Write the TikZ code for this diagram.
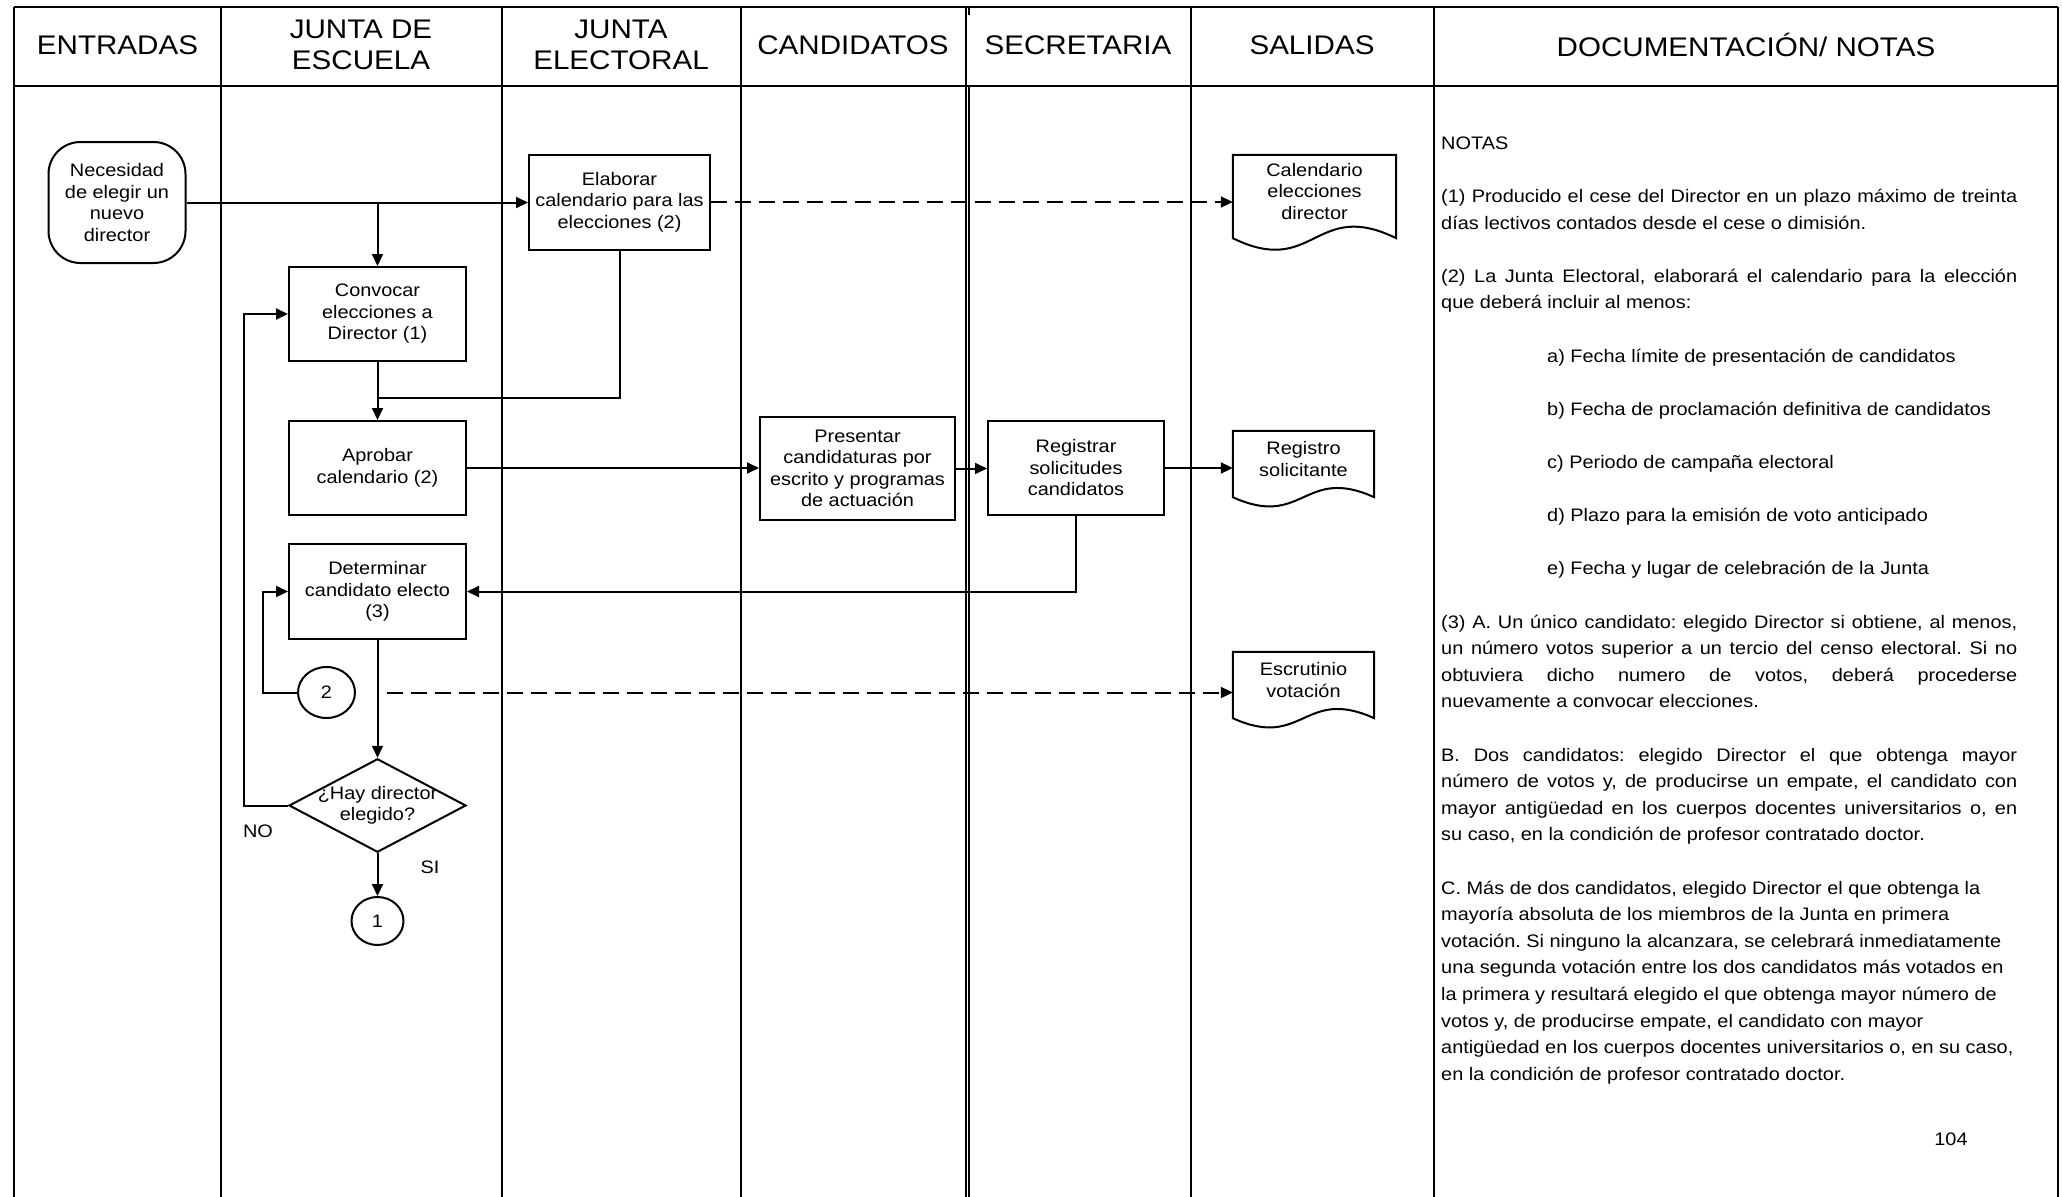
\documentclass[tikz,border=0pt]{standalone}
\usepackage{fontspec}
\setmainfont{Liberation Sans}[FakeStretch=1.1]
\usetikzlibrary{arrows.meta,shapes.geometric}
\newcommand\boxfont{\fontsize{18.1}{21.5}\selectfont}
\newcommand\hdrfont{\fontsize{26.9}{31.6}\selectfont}
\newcommand\notefont{\fontsize{18.1}{26.6}\selectfont}
\frenchspacing

\begin{document}
\begin{tikzpicture}[x=1pt, y=-1pt,
  frame/.style={line width=2.2pt},
  head/.style={align=center, font=\hdrfont},
  txt/.style={align=center, font=\boxfont},
  box/.style={txt, draw, line width=2pt, inner sep=0pt},
  term/.style={box, rounded corners=32pt},
  doc/.style={txt, inner sep=0pt},
  conn/.style={box, ellipse},
  decision/.style={diamond, draw, line width=2pt, inner sep=0pt, minimum width=177pt, minimum height=93.5pt},
  line/.style={line width=2pt},
  arr/.style={line, -{Triangle[length=12pt, width=11pt]}},
  dashline/.style={arr, dash pattern=on 16pt off 8pt}]

  \useasboundingbox (0,0) rectangle (2062,1197);

  \draw[frame] (14,7) -- (2058,7);
  \draw[frame] (14,86) -- (2058,86);
  \foreach \x in {14,221,502,741,966,1191,1434,2058}
    \draw[frame] (\x,7) -- (\x,1197);
  \draw[frame] (969,86) -- (969,1197);
  \draw[frame] (969,7) -- (969,15);

  \foreach \x/\t [count=\i] in {117.5/ENTRADAS, 361/{JUNTA DE\\ESCUELA}, 621/{JUNTA\\ELECTORAL},
      853/CANDIDATOS, 1078/SECRETARIA, 1312/SALIDAS, 1746/{DOCUMENTACIÓN/ NOTAS}}
    \node[head] (h\i) at (\x,45) {\t};

  \node[term, minimum width=137pt, minimum height=121pt] (nec) at (117,202.5) {Necesidad\\de elegir un\\nuevo\\director};
  \node[box, minimum width=181pt, minimum height=95pt] (elab) at (619.5,202) {Elaborar\\calendario para las\\elecciones (2)};
  \node[box, minimum width=177pt, minimum height=94pt] (conv) at (377.5,314) {Convocar\\elecciones a\\Director (1)};
  \node[box, minimum width=177pt, minimum height=94pt] (aprob) at (377.5,468) {Aprobar\\calendario (2)};
  \node[box, minimum width=195pt, minimum height=103pt] (pres) at (857.5,468.5) {Presentar\\candidaturas por\\escrito y programas\\de actuación};
  \node[box, minimum width=176pt, minimum height=94pt] (regs) at (1076,468) {Registrar\\solicitudes\\candidatos};
  \node[box, minimum width=177pt, minimum height=95pt] (det) at (377.5,591.5) {Determinar\\candidato electo\\(3)};
  \node[decision, label={[txt]center:{¿Hay director\\elegido?}}] (elig) at (377.5,805.5) {};
  \node[conn, minimum width=57pt, minimum height=51pt] (c2) at (326.5,692.5) {2};
  \node[conn, minimum width=52pt, minimum height=48pt] (c1) at (377.5,921) {1};
  \node[doc, minimum width=163pt, minimum height=93pt] (cal) at (1314.5,191.5) {Calendario\\elecciones\\director};
  \node[doc, minimum width=141pt, minimum height=76pt] (rsol) at (1303.5,459) {Registro\\solicitante};
  \node[doc, minimum width=141pt, minimum height=76pt] (escr) at (1303.5,680) {Escrutinio\\votación};
  \node[txt] (no) at (258,831) {NO};
  \node[txt] (si) at (430,867) {SI};
  \coordinate (jn) at (377.5,398);
  \coordinate (lp1) at (244,805.5);
  \coordinate (lp2) at (263,692.5);

  \foreach \n/\h/\d in {cal/81.5/40, rsol/70.5/32, escr/70.5/32}
    \draw[line] ([yshift=-10pt]\n.north west) -- (\n.south west)
      .. controls +(\h,\d) and +(-\h,-\d) .. (\n.south east) -- ([yshift=-10pt]\n.north east) -- cycle;

  \draw[arr] (nec.east) -- (nec.east -| elab.west);
  \draw[arr] (conv.north |- nec.east) -- (conv.north);
  \draw[dashline] (elab.east) -- (elab.east -| cal.west);
  \draw[arr] (conv.south) -- (aprob.north);
  \draw[line] (elab.south) |- (jn);
  \draw[arr] (aprob.east) -- (aprob.east -| pres.west);
  \draw[arr] (pres.east) -- (pres.east -| regs.west);
  \draw[arr] (regs.east) -- (regs.east -| rsol.west);
  \draw[arr] (regs.south) |- (det.east);
  \draw[arr] (det.south) -- (elig.north);
  \draw[arr] (c2.west) -- (lp2) |- (det.west);
  \draw[dashline, shorten <=31pt] (c2.east) -- (c2.east -| escr.west);
  \draw[arr] (elig.west) -- (lp1) |- (conv.west);
  \draw[arr] (elig.south) -- (c1.north);

  \node[anchor=north west, inner sep=0pt, text width=576pt, align=justify, font=\notefont] (notas) at (1441,136.5) {%
    \parindent=0pt\parskip=26.6pt\hyphenpenalty=10000\exhyphenpenalty=10000\frenchspacing
    NOTAS\par
    (1) Producido el cese del Director en un plazo máximo de treinta\linebreak
    días lectivos contados desde el cese o dimisión.\par
    (2) La Junta Electoral, elaborará el calendario para la elección\linebreak
    que deberá incluir al menos:\par
    {\leftskip=106pt
    a) Fecha límite de presentación de candidatos\par
    b) Fecha de proclamación definitiva de candidatos\par
    c) Periodo de campaña electoral\par
    d) Plazo para la emisión de voto anticipado\par
    e) Fecha y lugar de celebración de la Junta\par}
    (3) A. Un único candidato: elegido Director si obtiene, al menos,\linebreak
    un número votos superior a un tercio del censo electoral. Si no\linebreak
    obtuviera dicho numero de votos, deberá procederse\linebreak
    nuevamente a convocar elecciones.\par
    B. Dos candidatos: elegido Director el que obtenga mayor\linebreak
    número de votos y, de producirse un empate, el candidato con\linebreak
    mayor antigüedad en los cuerpos docentes universitarios o, en\linebreak
    su caso, en la condición de profesor contratado doctor.\par
    {\raggedright
    C. Más de dos candidatos, elegido Director el que obtenga la\\
    mayoría absoluta de los miembros de la Junta en primera\\
    votación. Si ninguno la alcanzara, se celebrará inmediatamente\\
    una segunda votación entre los dos candidatos más votados en\\
    la primera y resultará elegido el que obtenga mayor número de\\
    votos y, de producirse empate, el candidato con mayor\\
    antigüedad en los cuerpos docentes universitarios o, en su caso,\\
    en la condición de profesor contratado doctor.\par}};
  \node[txt] (pag) at (1951,1139) {104};
\end{tikzpicture}
\end{document}
